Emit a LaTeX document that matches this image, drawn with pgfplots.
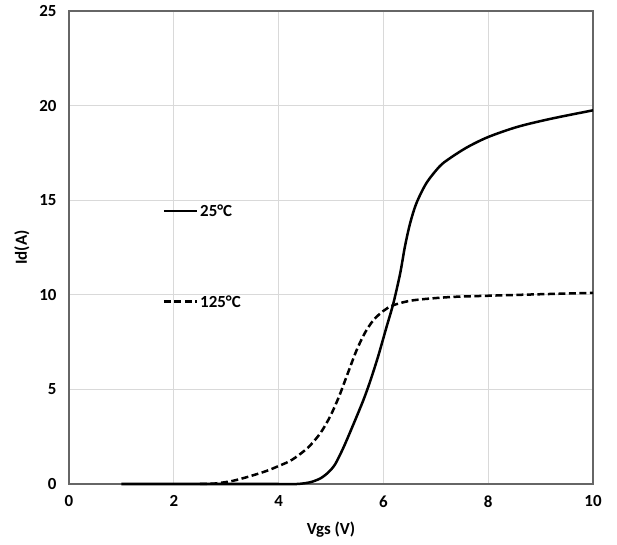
\documentclass[border=0pt]{standalone}
\usepackage{pgfplots}
\pgfplotsset{compat=1.18}
\usepackage{fontspec}
\setmainfont{Carlito}
\begin{document}
\begin{tikzpicture}
\useasboundingbox (-69bp,-61bp) rectangle (548bp,484bp);
\begin{axis}[
  scale only axis, width=524bp, height=473bp,
  xmin=0, xmax=10, ymin=0, ymax=25,
  xtick={0,2,...,10}, ytick={0,5,...,25},
  grid=major, major grid style={draw=black!15, line width=0.8bp},
  axis line style={draw=black!60, line width=1.6bp},
  tick style={draw=none},
  /pgf/number format/assume math mode=true,
  ticklabel style={font=\fontsize{17}{20}\selectfont\bfseries},
  xticklabel style={yshift=-8bp},
  yticklabel style={xshift=-9bp},
  xlabel={Vgs (V)}, ylabel={Id(A)},
  label style={font=\fontsize{17}{20}\selectfont\bfseries},
  xlabel style={at={(axis description cs:0.5,-0.0973)}, anchor=center},
  ylabel style={at={(axis description cs:-0.0897,0.5)}, anchor=center},
  clip=false,
]
\addplot[black, line width=2.5bp, smooth, tension=0.5] coordinates {
 (1,0) (2,0) (3,0) (4,0) (4.35,0.0) (4.6,0.09) (4.8,0.3) (4.95,0.62) (5.08,1.05) (5.24,1.94)
 (5.43,3.17) (5.62,4.45) (5.75,5.45) (5.9,6.75) (6.06,8.3) (6.19,9.55) (6.32,11.13)
 (6.41,12.54) (6.51,13.78) (6.63,14.84) (6.82,15.9) (7.07,16.78) (7.26,17.2)
 (7.6,17.8) (8.0,18.34) (8.55,18.87) (9.19,19.3) (10,19.75)
};
\addplot[black, line width=2.5bp, dash pattern=on 7bp off 3.5bp, smooth, tension=0.5] coordinates {
 (2.5,0) (2.8,0.03) (3.13,0.17) (3.44,0.4) (3.76,0.68) (4.0,0.95) (4.22,1.22) (4.42,1.6)
 (4.6,2.03) (4.8,2.7) (4.98,3.55) (5.15,4.6) (5.3,5.7) (5.49,7.08) (5.65,8.0)
 (5.81,8.66) (6.0,9.15) (6.19,9.45) (6.57,9.71) (7.27,9.88)
 (8,9.95) (9,10.03) (10,10.1)
};
\addplot[black, line width=2.5bp] coordinates {(1.81,14.43) (2.44,14.43)};
\addplot[black, line width=2.5bp, dash pattern=on 7bp off 3.5bp] coordinates {(1.81,9.64) (2.44,9.64)};
\node[anchor=west, inner sep=0pt, font=\fontsize{17}{20}\selectfont\bfseries] at (axis cs:2.5,14.43) {25°C};
\node[anchor=west, inner sep=0pt, font=\fontsize{17}{20}\selectfont\bfseries] at (axis cs:2.5,9.64) {125°C};
\end{axis}
\end{tikzpicture}
\end{document}
